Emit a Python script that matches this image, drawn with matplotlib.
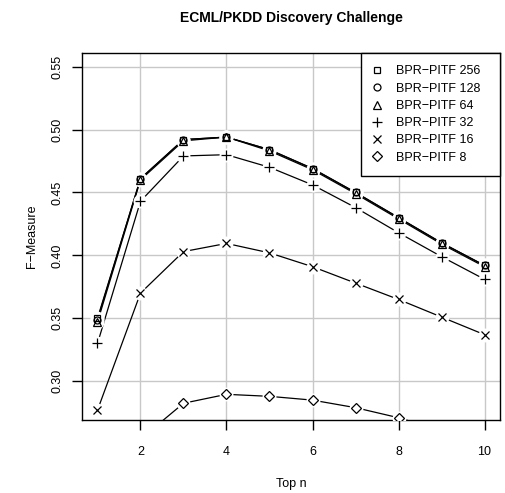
import numpy as np
import matplotlib
matplotlib.use("Agg")
import matplotlib.pyplot as plt

plt.rcParams['font.family'] = ['Liberation Sans', 'DejaVu Sans']

top_n = [1, 2, 3, 4, 5, 6, 7, 8, 9, 10]
f256 = [0.350, 0.461, 0.492, 0.494, 0.484, 0.469, 0.450, 0.430, 0.410, 0.392]
f128 = [0.349, 0.461, 0.492, 0.494, 0.484, 0.469, 0.450, 0.430, 0.410, 0.392]
f64 = [0.347, 0.460, 0.491, 0.494, 0.483, 0.468, 0.449, 0.429, 0.409, 0.391]
f32 = [0.330, 0.443, 0.479, 0.480, 0.470, 0.456, 0.438, 0.418, 0.399, 0.381]
f16 = [0.277, 0.370, 0.403, 0.4095, 0.402, 0.391, 0.378, 0.365, 0.351, 0.337]
f8 = [0.200, 0.254, 0.2825, 0.2896, 0.288, 0.285, 0.279, 0.271, 0.261, 0.252]

series = [f256, f128, f64, f32, f16, f8]
labels = ["BPR\u2212PITF 256  ", "BPR\u2212PITF 128  ", "BPR\u2212PITF 64  ",
          "BPR\u2212PITF 32  ", "BPR\u2212PITF 16  ", "BPR\u2212PITF 8  "]
markers = ['s', 'o', '^', '+', 'x', 'D']
msizes = [4.5, 5, 5.5, 7.5, 6, 5]

fig = plt.figure(figsize=(5.05, 4.93), dpi=100)
ax = fig.add_axes([82/505, 73/493, 418/505, 367/493])

ax.set_xlim(0.64, 10.36)
ax.set_ylim(0.2692, 0.5608)
ax.set_xticks([2, 4, 6, 8, 10])
ax.set_yticks([0.30, 0.35, 0.40, 0.45, 0.50, 0.55])
ax.set_yticklabels(["0.30", "0.35", "0.40", "0.45", "0.50", "0.55"], rotation=90, va='center')
ax.grid(True, color='#c8c8c8', lw=1)
ax.set_axisbelow(True)

# lines first, then white gaps, then markers (like R type="b")
for y in series:
    ax.plot(top_n, y, color='black', lw=0.9, zorder=2)
for y in series:
    ax.plot(top_n, y, ls='none', marker='o', ms=9, mfc='white', mec='white', zorder=3)
handles = []
for y, m, s, lab in zip(series, markers, msizes, labels):
    h, = ax.plot(top_n, y, ls='none', marker=m, ms=s, mfc='none', mec='black',
                 mew=0.9, zorder=4, label=lab)
    handles.append(h)

for sp in ax.spines.values():
    sp.set_linewidth(1)
ax.tick_params(direction='out', length=7, width=1, labelsize=9)
ax.tick_params(axis='x', pad=12)
ax.tick_params(axis='y', pad=6)

ax.set_title("ECML/PKDD Discovery Challenge", fontsize=10, fontweight='bold', pad=22)
ax.set_xlabel("Top n", fontsize=9, labelpad=14)
ax.set_ylabel("F\u2212Measure", fontsize=9, labelpad=10)

leg = ax.legend(handles=handles, loc='upper right', borderaxespad=0, fancybox=False,
                edgecolor='black', framealpha=1, fontsize=9, labelspacing=0.42,
                handlelength=0.6, handletextpad=1.2, borderpad=1.0)
leg.get_frame().set_linewidth(1)

fig.savefig("out.png", dpi=100)
